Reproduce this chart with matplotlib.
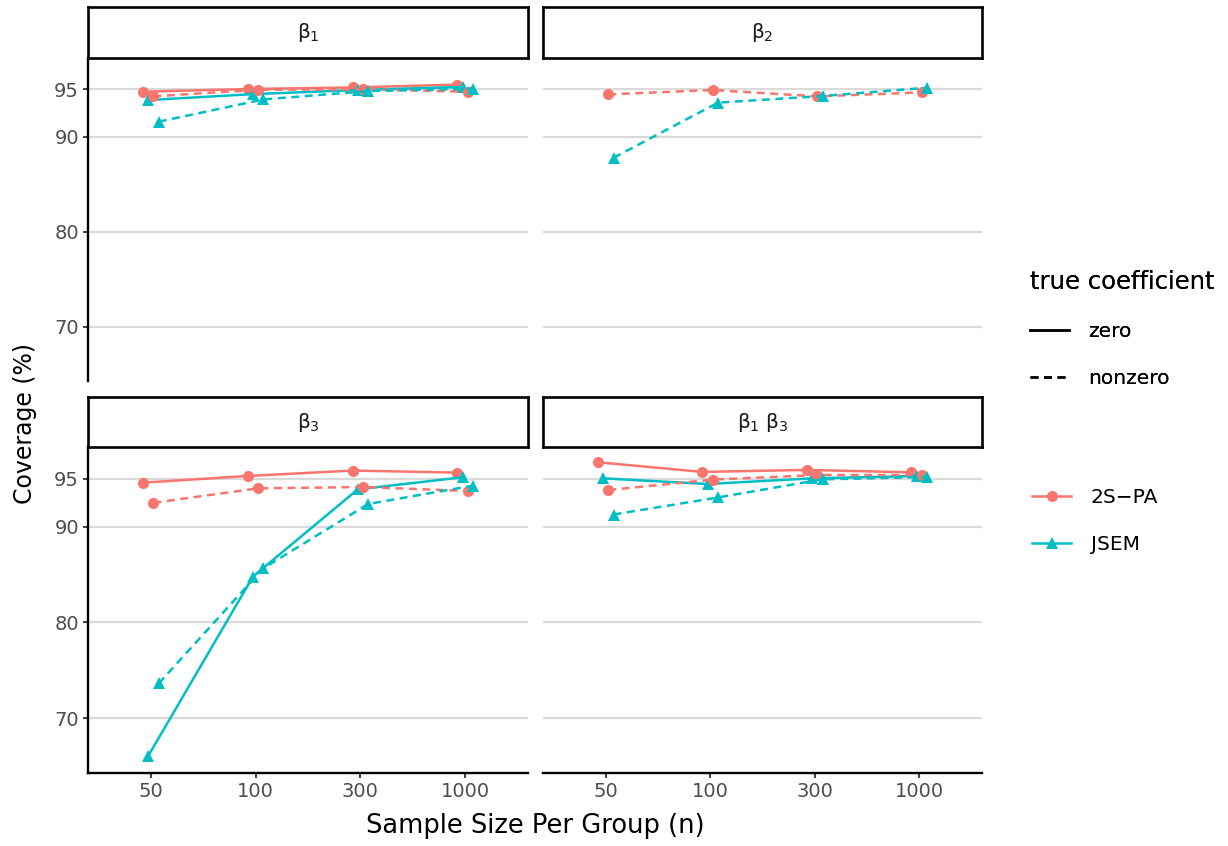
import matplotlib.pyplot as plt
from matplotlib.lines import Line2D

plt.rcParams['font.family'] = ['DejaVu Sans']
plt.rcParams['mathtext.fontset'] = 'custom'
plt.rcParams['mathtext.rm'] = 'DejaVu Sans'
plt.rcParams['mathtext.it'] = 'DejaVu Sans'

# sample sizes (discrete x levels)
sizes = ['50', '100', '300', '1000']
panel_titles = [r'$\beta_1$', r'$\beta_2$', r'$\beta_3$', r'$\beta_1\ \beta_3$']

# coverage (%), one list per panel / method / true coefficient
b1_pa_zero = [94.75, 95.03, 95.2, 95.5]
b1_pa_nonzero = [94.26, 94.96, 95.0, 94.75]
b1_jsem_zero = [93.87, 94.5, 94.93, 95.25]
b1_jsem_nonzero = [91.6, 93.94, 94.82, 95.07]

b2_pa_nonzero = [94.47, 94.93, 94.26, 94.68]
b2_jsem_nonzero = [87.8, 93.6, 94.3, 95.17]

b3_pa_zero = [94.58, 95.28, 95.84, 95.63]
b3_pa_nonzero = [92.48, 93.99, 94.13, 93.71]
b3_jsem_zero = [66.08, 84.79, 93.88, 95.14]
b3_jsem_nonzero = [73.64, 85.66, 92.36, 94.27]

b13_pa_zero = [96.71, 95.7, 95.91, 95.66]
b13_pa_nonzero = [93.81, 94.9, 95.38, 95.38]
b13_jsem_zero = [95.03, 94.44, 95.03, 95.28]
b13_jsem_nonzero = [91.26, 93.04, 94.93, 95.17]

panel_data = [
    {('2S-PA', 'zero'): b1_pa_zero, ('JSEM', 'zero'): b1_jsem_zero,
     ('2S-PA', 'nonzero'): b1_pa_nonzero, ('JSEM', 'nonzero'): b1_jsem_nonzero},
    {('2S-PA', 'nonzero'): b2_pa_nonzero, ('JSEM', 'nonzero'): b2_jsem_nonzero},
    {('2S-PA', 'zero'): b3_pa_zero, ('JSEM', 'zero'): b3_jsem_zero,
     ('2S-PA', 'nonzero'): b3_pa_nonzero, ('JSEM', 'nonzero'): b3_jsem_nonzero},
    {('2S-PA', 'zero'): b13_pa_zero, ('JSEM', 'zero'): b13_jsem_zero,
     ('2S-PA', 'nonzero'): b13_pa_nonzero, ('JSEM', 'nonzero'): b13_jsem_nonzero},
]

colors = {'2S-PA': '#F8766D', 'JSEM': '#00BFC4'}
markers = {'2S-PA': 'o', 'JSEM': '^'}
msizes = {'2S-PA': 8, 'JSEM': 9}
dash = (3.2, 2.2)
lw = 1.8
# dodge offsets (position_dodge width 0.2, 4 groups)
dodge = {('2S-PA', 'zero'): -0.075, ('JSEM', 'zero'): -0.025,
         ('2S-PA', 'nonzero'): 0.025, ('JSEM', 'nonzero'): 0.075}

W, H = 1228, 846
fig = plt.figure(figsize=(W / 100, H / 100), dpi=100)

cols = [(88, 528), (543, 982)]
rows = [(7, 58, 381), (397, 447, 773)]  # strip top, panel top, panel bottom

for k in range(4):
    r, c = divmod(k, 2)
    x0, x1 = cols[c]
    st, pt, pb = rows[r]
    ax = fig.add_axes([x0 / W, 1 - pb / H, (x1 - x0) / W, (pb - pt) / H])
    sax = fig.add_axes([x0 / W, 1 - pt / H, (x1 - x0) / W, (pt - st) / H])
    sax.set_xticks([])
    sax.set_yticks([])
    for s in sax.spines.values():
        s.set_linewidth(1.9)
        s.set_color('black')
    sax.text(0.5, 0.5, panel_titles[k], ha='center', va='center',
             fontsize=14.5, color='#1A1A1A', transform=sax.transAxes)

    for key, vals in panel_data[k].items():
        method, coef = key
        xs = [i + 1 + dodge[key] for i in range(len(sizes))]
        line, = ax.plot(xs, vals, color=colors[method], lw=lw,
                        marker=markers[method], ms=msizes[method],
                        markeredgewidth=0, zorder=3)
        if coef == 'nonzero':
            line.set_dashes(dash)

    ax.set_xlim(0.4, 4.6)
    ax.set_ylim(64.3, 98.3)
    ax.set_yticks([70, 80, 90, 95])
    ax.set_xticks(range(1, 5))
    ax.set_xticklabels(sizes)
    ax.yaxis.grid(True, color='#DADADA', lw=1.6)
    ax.set_axisbelow(True)
    for s in ['top', 'right']:
        ax.spines[s].set_visible(False)
    ax.spines['left'].set_linewidth(1.7)
    ax.spines['bottom'].set_linewidth(1.7)
    ax.tick_params(length=3.5, width=1.3, color='#333333', labelcolor='#4D4D4D',
                   labelsize=14, pad=3)
    if c == 1:
        ax.spines['left'].set_visible(False)
        ax.tick_params(axis='y', left=False, labelleft=False)
    if r == 0:
        ax.spines['bottom'].set_visible(False)
        ax.tick_params(axis='x', bottom=False, labelbottom=False)

fig.text(535 / W, 1 - 826 / H, 'Sample Size Per Group (n)', ha='center', va='center',
         fontsize=18.5)
fig.text(25 / W, 1 - 424 / H, 'Coverage (%)', ha='center', va='center',
         rotation=90, fontsize=17)

# legends
lt_handles = [Line2D([], [], color='black', lw=lw),
              Line2D([], [], color='black', lw=lw, dashes=dash)]
leg1 = fig.legend(lt_handles, ['zero', 'nonzero'], title='true coefficient',
                  loc='upper left', bbox_to_anchor=(1012 / W, 1 - 252 / H),
                  frameon=False, fontsize=14.5, title_fontsize=17.5,
                  handlelength=1.95, handletextpad=0.95, labelspacing=1.38,
                  alignment='left')
fig.add_artist(leg1)

m_handles = [Line2D([], [], color=colors[m], lw=lw, marker=markers[m],
                    ms=msizes[m], markeredgewidth=0) for m in ['2S-PA', 'JSEM']]
fig.legend(m_handles, ['2S\u2212PA', 'JSEM'], loc='upper left',
           bbox_to_anchor=(1014 / W, 1 - 470 / H), frameon=False, fontsize=14.5,
           handlelength=1.95, handletextpad=0.95, labelspacing=1.38)

fig.savefig('out.png', dpi=100)
